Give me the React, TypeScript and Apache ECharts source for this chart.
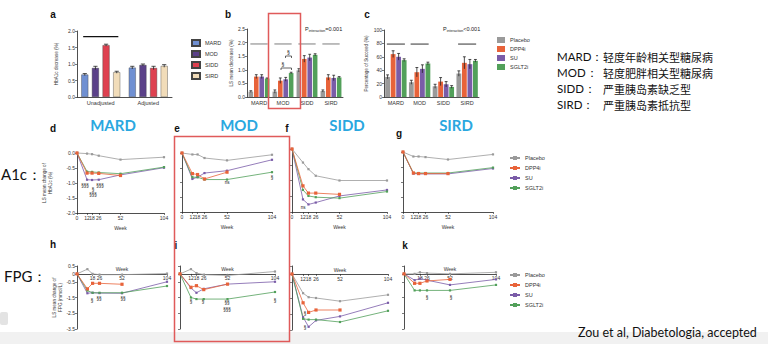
import React, { useEffect, useRef } from 'react';
import * as echarts from 'echarts';

// ---------- categories ----------
const clusters = ['MARD', 'MOD', 'SIDD', 'SIRD'];
const treatments = ['Placebo', 'DPP4i', 'SU', 'SGLT2i'];
const adjustments = ['Unadjusted', 'Adjusted'];
const weeks = [0, 12, 18, 26, 52, 104];

// ---------- cluster descriptions ----------
const clusterLabels = ['MARD：', 'MOD：', 'SIDD：', 'SIRD：'];
const clusterNamesCN = ['轻度年龄相关型糖尿病', '轻度肥胖相关型糖尿病', '严重胰岛素缺乏型', '严重胰岛素抵抗型'];

// ---------- panel a: HbA1c decrease (%) ----------
const aMARD = [0.68, 0.89];
const aMOD = [0.88, 0.97];
const aSIDD = [1.57, 0.88];
const aSIRD = [0.75, 0.94];
const aErrMARD = [0.03, 0.04];
const aErrMOD = [0.05, 0.03];
const aErrSIDD = [0.03, 0.05];
const aErrSIRD = [0.03, 0.04];

// ---------- panel b: LS mean decrease (%) ----------
const bPlacebo = [0.2, 0.2, 0.98, 0.22];
const bDPP4i = [0.75, 0.6, 1.4, 0.72];
const bSU = [0.75, 0.65, 1.45, 0.7];
const bSGLT2i = [0.68, 0.88, 1.55, 0.72];
const bErrPlacebo = [0.03, 0.06, 0.06, 0.04];
const bErrDPP4i = [0.07, 0.1, 0.12, 0.1];
const bErrSU = [0.07, 0.07, 0.12, 0.1];
const bErrSGLT2i = [0.02, 0.03, 0.04, 0.03];
const bRefLine = [1.95, 1.95, 1.95, 1.95];

// ---------- panel c: Percentage of Succeed (%) ----------
const cPlacebo = [30, 22, 16, 35];
const cDPP4i = [64, 37, 23, 51];
const cSU = [60, 42, 19, 49];
const cSGLT2i = [55, 50, 15, 54];
const cErrPlacebo = [3, 3, 3, 4];
const cErrDPP4i = [5, 7, 6, 9];
const cErrSU = [5, 6, 4, 7];
const cErrSGLT2i = [2, 2, 2, 2];
const cRefLine = [79, 79, null, 79];

// ---------- panels d-g: LS mean change of HbA1c (%) ----------
const dPlacebo = [0, -0.02, -0.04, -0.09, -0.22, -0.14];
const dDPP4i = [0, -0.67, -0.67, -0.68, -0.75, null];
const dSU = [0, -0.89, -0.9, -0.89, -0.73, -0.49];
const dSGLT2i = [0, -0.62, -0.63, -0.65, -0.69, -0.47];

const ePlacebo = [0, -0.05, -0.05, -0.17, -0.25, -0.06];
const eDPP4i = [0, -0.7, -0.73, -0.88, -0.65, null];
const eSU = [0, -0.88, -0.82, -0.68, -0.6, -0.23];
const eSGLT2i = [0, -0.82, -0.82, -0.9, -0.9, -0.65];

const fPlacebo = [0, -0.43, -0.64, -0.85, -1.0, -1.0];
const fDPP4i = [0, -1.17, -1.4, -1.4, -1.44, null];
const fSU = [0, -1.6, -1.76, -1.7, -1.49, -1.3];
const fSGLT2i = [0, -1.3, -1.49, -1.53, -1.56, -1.35];

const gPlacebo = [0, -0.15, -0.15, -0.17, -0.25, -0.08];
const gDPP4i = [0, -0.7, -0.72, -0.72, -0.72, null];
const gSU = [0, -0.72, -0.73, -0.73, -0.73, -0.55];
const gSGLT2i = [0, -0.7, -0.7, -0.7, -0.7, -0.52];

// ---------- panels h-k: LS mean change of FPG (mmol/L) ----------
const hPlacebo = [0, 0.3, 0.0, -0.05, -0.05, 0.02];
const hDPP4i = [0, -0.95, -0.6, -0.6, -0.66, null];
const hSU = [0, -1.23, -1.2, -1.22, -1.23, -0.5];
const hSGLT2i = [0, -1.06, -1.2, -1.2, -1.2, -0.77];

const iPlacebo = [0, 0.3, 0.05, -0.05, -0.1, 0.15];
const iDPP4i = [0, -0.85, -0.75, -1.0, -0.65, null];
const iSU = [0, -0.9, -1.2, -0.95, -0.65, -0.5];
const iSGLT2i = [0, -1.5, -1.6, -1.6, -1.6, -1.15];

const jPlacebo = [0, -1.2, -1.45, -1.5, -1.7, -1.3];
const jDPP4i = [0, -1.8, -2.4, -2.25, -2.25, null];
const jSU = [0, -2.7, -3.3, -2.9, -2.65, -1.8];
const jSGLT2i = [0, -2.8, -2.85, -2.85, -3.0, -2.3];

const kPlacebo = [0, 0.0, 0.1, 0.05, 0.0, 0.1];
const kDPP4i = [0, -0.6, -0.6, -0.45, -0.35, null];
const kSU = [0, -0.4, -0.3, -0.4, -0.7, -0.35];
const kSGLT2i = [0, -1.05, -1.05, -1.05, -1.05, -0.7];

// tick labels
const a1cTicks = [0, -0.5, -1, -1.5, -2];
const fpgTicks = [0.5, 0, -0.5, -1.5, -2.5, -3.5];
const weekLabelsTop = [0, 12, 18, 26, 52, 104];
const weekLabelsBottom = [12, 18, 26, 52, 104];

// ---------- styles ----------
const clusterColors = ['#7090d2', '#5b4189', '#de4150', '#f1dcb9'];
const treatColors = ['#9a9a9a', '#e8633a', '#7a5ca8', '#52a05a'];
const AX = '#222';
const FONT = 'Liberation Sans';
const LATO = 'Lato';
const CJK = 'Noto Sans CJK SC';

const grids = [
  { left: 77, top: 31, width: 95, height: 66 }, // a
  { left: 247, top: 29, width: 96, height: 68 }, // b
  { left: 384, top: 30, width: 95, height: 67 }, // c
  { left: 77, top: 153, width: 87, height: 60 }, // d
  { left: 182, top: 153, width: 90, height: 59 }, // e
  { left: 292, top: 149, width: 95, height: 63 }, // f
  { left: 403, top: 152, width: 90, height: 60 }, // g
  { left: 77, top: 266, width: 90, height: 63 }, // h
  { left: 180, top: 266, width: 95, height: 63 }, // i
  { left: 292, top: 266, width: 96, height: 64 }, // j
  { left: 404, top: 266, width: 92, height: 63 }, // k
];

const tinyLabel = { fontSize: 5, color: '#333', fontFamily: FONT };

function errRender(barWidth: number, gapFrac: number, n: number) {
  return (params: any, api: any) => {
    const cat = api.value(0);
    const v = api.value(1);
    const e = api.value(2);
    const k = api.value(3);
    const base = api.coord([cat, v]);
    const total = n * barWidth + (n - 1) * gapFrac * barWidth;
    const x = base[0] - total / 2 + k * barWidth * (1 + gapFrac) + barWidth / 2;
    const yTop = api.coord([cat, v + e])[1];
    const yBot = api.coord([cat, v - e])[1];
    const cap = Math.max(1.2, barWidth * 0.3);
    const st = { stroke: '#222', lineWidth: 0.8 };
    return {
      type: 'group',
      children: [
        { type: 'line', shape: { x1: x, y1: yTop, x2: x, y2: yBot }, style: st },
        { type: 'line', shape: { x1: x - cap, y1: yTop, x2: x + cap, y2: yTop }, style: st },
      ],
    };
  };
}

function groupLineRender(color: string, frac: number, width: number) {
  return (params: any, api: any) => {
    const c = api.coord([api.value(0), api.value(1)]);
    const bw = api.size([1, 0])[0];
    const half = bw * frac;
    return {
      type: 'line',
      shape: { x1: c[0] - half, y1: c[1], x2: c[0] + half, y2: c[1] },
      style: { stroke: color, lineWidth: width },
    };
  };
}

const toPts = (vals: (number | null)[]) =>
  weeks.map((w, i) => (vals[i] === null ? null : [w, vals[i]])).filter((p) => p !== null);

const linePanels = [
  { grid: 3, vals: [dPlacebo, dDPP4i, dSU, dSGLT2i] },
  { grid: 4, vals: [ePlacebo, eDPP4i, eSU, eSGLT2i] },
  { grid: 5, vals: [fPlacebo, fDPP4i, fSU, fSGLT2i] },
  { grid: 6, vals: [gPlacebo, gDPP4i, gSU, gSGLT2i] },
  { grid: 7, vals: [hPlacebo, hDPP4i, hSU, hSGLT2i] },
  { grid: 8, vals: [iPlacebo, iDPP4i, iSU, iSGLT2i] },
  { grid: 9, vals: [jPlacebo, jDPP4i, jSU, jSGLT2i] },
  { grid: 10, vals: [kPlacebo, kDPP4i, kSU, kSGLT2i] },
];

const A1C_MIN = -2, A1C_MAX = 0;
const FPG_MIN = -3.5, FPG_MAX = 0.5;

function buildOption() {
  const xAxes: any[] = [];
  const yAxes: any[] = [];

  const catX = (gi: number, data: string[]) => ({
    gridIndex: gi,
    type: 'category',
    data,
    axisLine: { lineStyle: { color: AX, width: 0.8 } },
    axisTick: { alignWithLabel: true, length: 2, lineStyle: { color: AX, width: 0.6 } },
    axisLabel: { ...tinyLabel, fontSize: 5.5, margin: 3, interval: 0 },
  });
  const valY = (gi: number, min: number, max: number, interval: number, name: string, gap: number, dec: number) => ({
    gridIndex: gi,
    type: 'value',
    min,
    max,
    interval,
    splitLine: { show: false },
    axisLine: { show: true, lineStyle: { color: AX, width: 0.8 } },
    axisTick: { show: true, length: 2, lineStyle: { color: AX, width: 0.6 } },
    axisLabel: { ...tinyLabel, margin: 2, formatter: (v: number) => v.toFixed(dec) },
    name,
    nameLocation: 'middle',
    nameGap: gap,
    nameMoveOverlap: false,
    nameTextStyle: { ...tinyLabel, fontSize: 4.6 },
  });
  xAxes.push(catX(0, adjustments));
  yAxes.push(valY(0, 0, 2, 0.5, 'HbA1c decrease (%)', 18, 1));
  xAxes.push(catX(1, clusters));
  yAxes.push(valY(1, 0, 2.5, 0.5, 'LS mean decrease (%)', 13, 1));
  xAxes.push(catX(2, clusters));
  yAxes.push(valY(2, 0, 100, 20, 'Percentage of Succeed (%)', 15, 0));

  for (let gi = 3; gi <= 10; gi++) {
    const top = gi <= 6;
    const yMin = top ? A1C_MIN : FPG_MIN;
    const yMax = top ? A1C_MAX : FPG_MAX;
    const zeroOffset = top ? 0 : -(grids[gi].height * (0 - yMin)) / (yMax - yMin);
    xAxes.push({
      gridIndex: gi,
      type: 'value',
      min: 0,
      max: 104,
      position: 'bottom',
      offset: zeroOffset,
      splitLine: { show: false },
      axisLine: { onZero: false, lineStyle: { color: AX, width: 0.8 } },
      axisTick: { customValues: weeks, length: 2, lineStyle: { color: AX, width: 0.6 } },
      axisLabel: { ...tinyLabel, margin: 2, customValues: top ? weekLabelsTop : weekLabelsBottom },
      name: 'Week',
      nameLocation: 'middle',
      nameGap: top ? 12 : -7,
      nameMoveOverlap: false,
      nameTextStyle: { ...tinyLabel, fontSize: 5 },
    });
    const showLab = gi === 3 || gi === 7;
    yAxes.push({
      gridIndex: gi,
      type: 'value',
      min: yMin,
      max: yMax,
      interval: 0.5,
      splitLine: { show: false },
      axisLine: { show: true, onZero: false, lineStyle: { color: AX, width: 0.8 } },
      axisTick: { show: true, length: 2, customValues: top ? a1cTicks : fpgTicks, lineStyle: { color: AX, width: 0.6 } },
      axisLabel: {
        show: showLab,
        ...tinyLabel,
        margin: 2,
        customValues: top ? a1cTicks : fpgTicks,
        formatter: (v: number) => (top ? v.toFixed(1) : String(v)),
      },
      name: showLab ? (top ? 'LS mean change of\nHbA1c (%)' : 'LS mean change of\nFPG (mmol/L)') : '',
      nameLocation: 'middle',
      nameGap: top ? 24 : 14,
      nameMoveOverlap: false,
      nameTextStyle: { ...tinyLabel, fontSize: 4.6, lineHeight: 5.5 },
    });
  }

  const series: any[] = [];
  linePanels.forEach((p) => {
    p.vals.forEach((vals, t) => {
      series.push({
        type: 'line',
        name: treatments[t],
        xAxisIndex: p.grid,
        yAxisIndex: p.grid,
        data: toPts(vals),
        symbol: 'rect',
        symbolSize: t === 1 ? 3.2 : 2.2,
        color: treatColors[t],
        lineStyle: { width: 0.8, color: treatColors[t] },
        itemStyle: { color: treatColors[t] },
        clip: false,
        z: t === 1 ? 4 : 3,
      });
    });
  });

  const aVals = [aMARD, aMOD, aSIDD, aSIRD];
  const aErrs = [aErrMARD, aErrMOD, aErrSIDD, aErrSIRD];
  aVals.forEach((vals, k) => {
    series.push({
      type: 'bar',
      name: clusters[k],
      xAxisIndex: 0,
      yAxisIndex: 0,
      data: vals,
      barWidth: 7,
      barGap: '52%',
      itemStyle: { color: clusterColors[k], borderColor: '#444', borderWidth: 0.4 },
    });
  });
  const bVals = [bPlacebo, bDPP4i, bSU, bSGLT2i];
  const bErrs = [bErrPlacebo, bErrDPP4i, bErrSU, bErrSGLT2i];
  const cVals = [cPlacebo, cDPP4i, cSU, cSGLT2i];
  const cErrs = [cErrPlacebo, cErrDPP4i, cErrSU, cErrSGLT2i];
  bVals.forEach((vals, k) => {
    series.push({
      type: 'bar',
      name: treatments[k],
      xAxisIndex: 1,
      yAxisIndex: 1,
      data: vals,
      barWidth: 4.6,
      barGap: '18%',
      itemStyle: { color: treatColors[k] },
    });
  });
  cVals.forEach((vals, k) => {
    series.push({
      type: 'bar',
      name: treatments[k],
      xAxisIndex: 2,
      yAxisIndex: 2,
      data: vals,
      barWidth: 4.8,
      barGap: '15%',
      itemStyle: { color: treatColors[k] },
    });
  });

  const errData = (vals: number[][], errs: number[][]) => {
    const out: number[][] = [];
    vals.forEach((arr, k) => arr.forEach((v, c) => out.push([c, v, errs[k][c], k])));
    return out;
  };
  series.push({
    type: 'custom', name: 'errA', xAxisIndex: 0, yAxisIndex: 0, silent: true, z: 5,
    renderItem: errRender(7, 0.52, 4), data: errData(aVals, aErrs),
  });
  series.push({
    type: 'custom', name: 'errB', xAxisIndex: 1, yAxisIndex: 1, silent: true, z: 5,
    renderItem: errRender(4.6, 0.18, 4), data: errData(bVals, bErrs),
  });
  series.push({
    type: 'custom', name: 'errC', xAxisIndex: 2, yAxisIndex: 2, silent: true, z: 5,
    renderItem: errRender(4.8, 0.15, 4), data: errData(cVals, cErrs),
  });
  series.push({
    type: 'custom', name: 'refA', xAxisIndex: 0, yAxisIndex: 0, silent: true, z: 5,
    renderItem: groupLineRender('#111', 0.37, 1.2), data: [[0, 1.83]],
  });
  series.push({
    type: 'custom', name: 'refB', xAxisIndex: 1, yAxisIndex: 1, silent: true, z: 5,
    renderItem: groupLineRender('#888', 0.36, 1.1),
    data: bRefLine.map((v, i) => [i, v]),
  });
  series.push({
    type: 'custom', name: 'refC', xAxisIndex: 2, yAxisIndex: 2, silent: true, z: 5,
    renderItem: groupLineRender('#444', 0.38, 1.1),
    data: cRefLine.map((v, i) => [i, v]).filter((d) => d[1] !== null),
  });

  const legendText = { ...tinyLabel, fontSize: 5.5 };
  const legends = [
    { data: clusters, left: 186, top: 34, orient: 'vertical', itemWidth: 8, itemHeight: 6, itemGap: 3, icon: 'rect', textStyle: legendText },
    { data: treatments, left: 492, top: 32, orient: 'vertical', itemWidth: 8, itemHeight: 6, itemGap: 3, icon: 'rect', textStyle: legendText },
    { data: treatments, left: 504, top: 150, orient: 'vertical', itemWidth: 10, itemHeight: 5, itemGap: 4, textStyle: legendText },
    { data: treatments, left: 504, top: 267, orient: 'vertical', itemWidth: 10, itemHeight: 5, itemGap: 4, textStyle: legendText },
  ];

  const t = (x: number, y: number, text: string, style: any = {}) => ({
    type: 'text',
    x,
    y,
    silent: true,
    style: { text, fill: '#111', fontFamily: FONT, fontSize: 5, verticalAlign: 'middle', align: 'center', ...style },
  });
  const letter = (x: number, y: number, s: string) => t(x, y, s, { fontSize: 10, fontWeight: 'bold' });
  const title = (x: number, y: number, s: string) =>
    t(x, y, s, { fontSize: 15, fontWeight: 'bold', fill: '#2aa7df', fontFamily: LATO });
  const pInt = (x: number, y: number, val: string) => ({
    type: 'text',
    x,
    y,
    silent: true,
    style: {
      text: `{p|P}{s|interaction}{p|${val}}`,
      verticalAlign: 'middle',
      rich: {
        p: { fontSize: 5.5, fontFamily: FONT, fill: '#222' },
        s: { fontSize: 3.6, fontFamily: FONT, fill: '#222', padding: [3, 0, 0, 0] },
      },
    },
  });
  const bracket = (x1: number, x2: number, y: number) => ({
    type: 'polyline',
    silent: true,
    shape: { points: [[x1, y + 2], [x1, y], [x2, y], [x2, y + 2]] },
    style: { stroke: '#222', lineWidth: 0.7, fill: 'none' },
  });

  const graphic: any[] = [
    { type: 'rect', silent: true, z: -10, shape: { x: 0, y: 332, width: 768, height: 12 }, style: { fill: '#f1f1f1' } },
    { type: 'rect', silent: true, z: -10, shape: { x: 0, y: 312, width: 8, height: 13, r: 2 }, style: { fill: '#e3e3e3' } },
    letter(53, 14, 'a'),
    letter(228, 14, 'b'),
    letter(367, 14, 'c'),
    letter(53, 128, 'd'),
    letter(177, 128, 'e'),
    letter(287, 128, 'f'),
    letter(399, 133, 'g'),
    letter(53, 244, 'h'),
    letter(176, 245, 'i'),
    letter(405, 245, 'k'),
    title(113, 125, 'MARD'),
    title(239, 125, 'MOD'),
    title(347, 125, 'SIDD'),
    title(456, 125, 'SIRD'),
    t(1, 174, 'A1c：', { fontSize: 15, align: 'left', fontFamily: LATO }),
    t(4, 276, 'FPG：', { fontSize: 15, align: 'left', fontFamily: LATO }),
    pInt(305, 29, '=0.001'),
    pInt(443, 29, '<0.001'),
    bracket(285.5, 291.5, 56),
    t(288.5, 52, '§', { fontSize: 5 }),
    bracket(281, 291.5, 68),
    t(283, 63.5, '§', { fontSize: 5 }),
    t(85, 185, '§§§', { fontSize: 4.5 }),
    t(100, 185, '§§§', { fontSize: 4.5 }),
    t(93, 189.5, '§', { fontSize: 4.5 }),
    t(93, 194, '§§§', { fontSize: 4.5 }),
    t(227, 182, 'ns', { fontSize: 4.5 }),
    t(272, 177, '§', { fontSize: 4.5 }),
    t(303, 207, 'ns', { fontSize: 4.5 }),
    t(92, 300, '§', { fontSize: 4.5 }),
    t(99, 298, '§§', { fontSize: 4.5 }),
    t(123, 298, '§§', { fontSize: 4.5 }),
    t(191, 301, '§', { fontSize: 4.5 }),
    t(203, 301, '§', { fontSize: 4.5 }),
    t(227, 302, '§§', { fontSize: 4.5 }),
    t(227, 309, '§§§', { fontSize: 4.5 }),
    t(275, 300, '§', { fontSize: 4.5 }),
    t(305, 313, '§', { fontSize: 4.5 }),
    t(305, 327, '§', { fontSize: 4.5 }),
    t(427, 297, '§', { fontSize: 4.5 }),
    t(451, 297, '§', { fontSize: 4.5 }),
    { type: 'rect', silent: true, z: 20, shape: { x: 268.5, y: 13.5, width: 32, height: 95 }, style: { fill: 'none', stroke: '#e05a5a', lineWidth: 1.5 } },
    { type: 'rect', silent: true, z: 20, shape: { x: 174.5, y: 136.5, width: 115, height: 205 }, style: { fill: 'none', stroke: '#e05a5a', lineWidth: 1.5 } },
    t(578, 332, 'Zou et al, Diabetologia, accepted', { fontSize: 12.5, align: 'left', fontFamily: LATO, fill: '#111' }),
  ];
  clusterLabels.forEach((lab, i) => {
    const y = 56.5 + i * 16;
    graphic.push(t(557, y, lab, { fontSize: 11.5, align: 'left', fontFamily: LATO, fill: '#111' }));
    graphic.push(t(603, y, clusterNamesCN[i], { fontSize: 11, align: 'left', fontFamily: CJK, fill: '#111' }));
  });

  return {
    animation: false,
    backgroundColor: '#ffffff',
    grid: grids.map((g) => ({ ...g, containLabel: false, outerBoundsMode: 'none' })),
    xAxis: xAxes,
    yAxis: yAxes,
    legend: legends,
    series,
    graphic,
  };
}

export default function App() {
  const ref = useRef<HTMLDivElement>(null);
  useEffect(() => {
    if (!ref.current) return;
    const chart = echarts.init(ref.current, undefined, { renderer: 'svg', width: 768, height: 344 });
    chart.setOption(buildOption() as any);
    return () => chart.dispose();
  }, []);
  return (
    <div
      ref={ref}
      style={{ position: 'absolute', left: 0, top: 0, width: 768, height: 344, background: '#fff' }}
    />
  );
}
